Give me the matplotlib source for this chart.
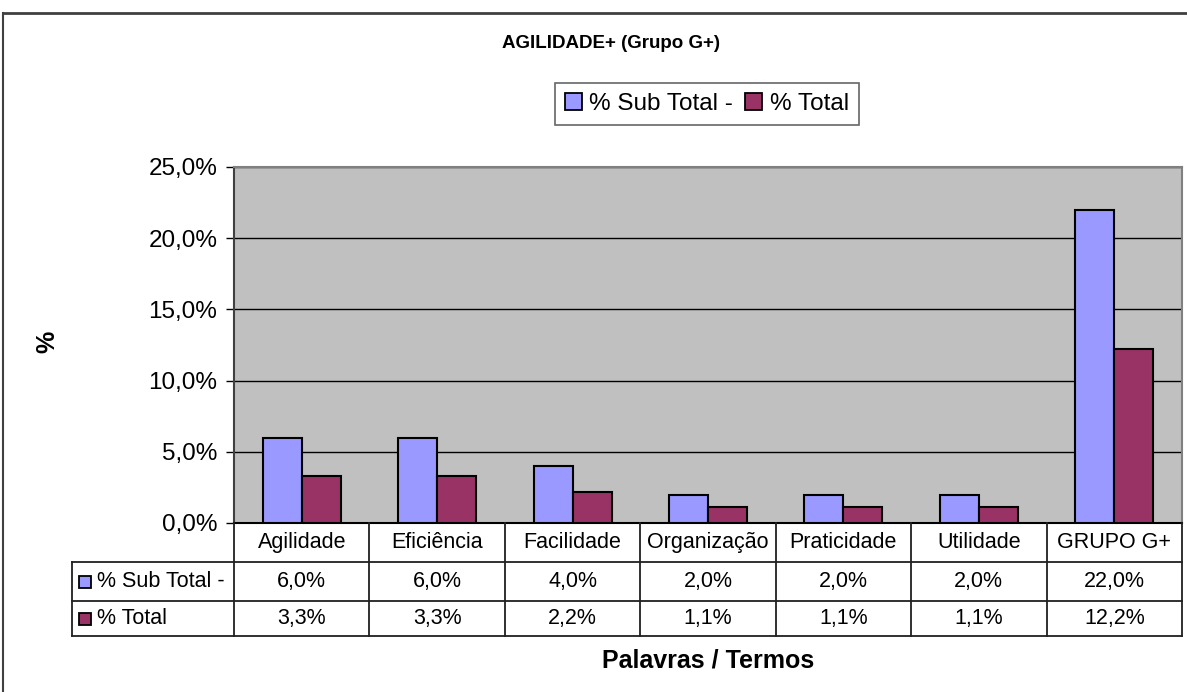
import matplotlib
matplotlib.use("Agg")
import matplotlib.pyplot as plt
from matplotlib.patches import Patch, Rectangle
from matplotlib.lines import Line2D
from matplotlib.transforms import blended_transform_factory
import numpy as np

categories = ["Agilidade", "Eficiência", "Facilidade", "Organização", "Praticidade", "Utilidade", "GRUPO G+"]
sub_total = [6.0, 6.0, 4.0, 2.0, 2.0, 2.0, 22.0]
total = [3.3, 3.3, 2.2, 1.1, 1.1, 1.1, 12.2]
series_names = ["% Sub Total -", "% Total"]
yticks = [0, 5, 10, 15, 20, 25]

blue = "#9999FF"
maroon = "#993366"
gray = "#C0C0C0"

plt.rcParams['font.family'] = ['Liberation Sans', 'DejaVu Sans']

W, H = 1187, 692
fig = plt.figure(figsize=(W / 100, H / 100), dpi=100)

def fx(px):
    return px / W

def fy(py):
    return 1 - py / H

ax_l, ax_r, ax_t, ax_b = 234, 1182, 167, 523
ax = fig.add_axes([fx(ax_l), fy(ax_b), fx(ax_r - ax_l), (ax_b - ax_t) / H])
ax.set_facecolor(gray)

x = np.arange(len(categories))
bw = 0.288
ax.bar(x - bw / 2, sub_total, bw, color=blue, edgecolor="black", linewidth=1.5, zorder=3)
ax.bar(x + bw / 2, total, bw, color=maroon, edgecolor="black", linewidth=1.5, zorder=3)

ax.set_xlim(-0.5, len(categories) - 0.5)
ax.set_ylim(0, 25)
ax.set_yticks(yticks)
ax.set_yticklabels([f"{v:.1f}%".replace(".", ",") for v in yticks], fontsize=17.5)
ax.set_xticks([])
ax.tick_params(axis="y", length=6, width=1, direction="out", pad=6)
ax.yaxis.grid(True, color="black", linewidth=1)
ax.set_axisbelow(True)
for s in ["top", "right"]:
    ax.spines[s].set_color("#808080")
    ax.spines[s].set_linewidth(1.5)
ax.spines["left"].set_color("#404040")
ax.spines["left"].set_linewidth(1.5)
ax.spines["bottom"].set_color("black")
ax.spines["bottom"].set_linewidth(1.5)

# Data table below the axes
tr = blended_transform_factory(ax.transData, fig.transFigure)
row_y = [523, 562, 601, 636]
n = len(categories)
lc = "#202020"
for i in range(n + 1):
    xb = i - 0.5
    fig.add_artist(Line2D([xb, xb], [fy(row_y[0]), fy(row_y[3])], transform=tr, color=lc, lw=1.3))
for yy in row_y[1:]:
    fig.add_artist(Line2D([fx(72), fx(ax_r)], [fy(yy), fy(yy)], transform=fig.transFigure, color=lc, lw=1.3))
fig.add_artist(Line2D([fx(72), fx(72)], [fy(row_y[1]), fy(row_y[3])], transform=fig.transFigure, color=lc, lw=1.3))

def fmt(v):
    return f"{v:.1f}%".replace(".", ",")

for i, c in enumerate(categories):
    fig.text(i, fy((row_y[0] + row_y[1]) / 2), c, transform=tr, ha="center", va="center", fontsize=15.5)
    fig.text(i, fy((row_y[1] + row_y[2]) / 2), fmt(sub_total[i]), transform=tr, ha="center", va="center", fontsize=15.5)
    fig.text(i, fy((row_y[2] + row_y[3]) / 2), fmt(total[i]), transform=tr, ha="center", va="center", fontsize=15.5)

for k, (name, col) in enumerate(zip(series_names, [blue, maroon])):
    yc = (row_y[k + 1] + row_y[k + 2]) / 2
    fig.add_artist(Rectangle((fx(79), fy(yc + 6)), fx(12), 12 / H, transform=fig.transFigure,
                             facecolor=col, edgecolor="black", lw=1.3))
    fig.text(fx(97), fy(yc), name, ha="left", va="center", fontsize=15.5)

# Title, axis labels
fig.text(fx(611), fy(44), "AGILIDADE+ (Grupo G+)", ha="center", va="center", fontsize=13.5, fontweight="bold")
fig.text(fx(47), fy(342), "%", ha="center", va="center", fontsize=18, fontweight="bold", rotation=90)
fig.text(fx(708), fy(660), "Palavras / Termos", ha="center", va="center", fontsize=18, fontweight="bold")

# Legend
handles = [Patch(facecolor=blue, edgecolor="black", lw=1.3), Patch(facecolor=maroon, edgecolor="black", lw=1.3)]
leg = fig.legend(handles, series_names, loc="center", bbox_to_anchor=(fx(707), fy(104)), ncol=2,
                 fontsize=17.5, frameon=True, fancybox=False, handlelength=0.7, handleheight=0.7,
                 handletextpad=0.3, columnspacing=0.5, borderpad=0.4)
leg.get_frame().set_edgecolor("#404040")
leg.get_frame().set_linewidth(1.2)

# Outer chart border (top and left visible)
fig.add_artist(Line2D([fx(3), 1], [fy(13), fy(13)], transform=fig.transFigure, color="#404040", lw=2))
fig.add_artist(Line2D([fx(3), fx(3)], [fy(13), 0], transform=fig.transFigure, color="#404040", lw=1.5))

fig.savefig("out.png", dpi=100)
